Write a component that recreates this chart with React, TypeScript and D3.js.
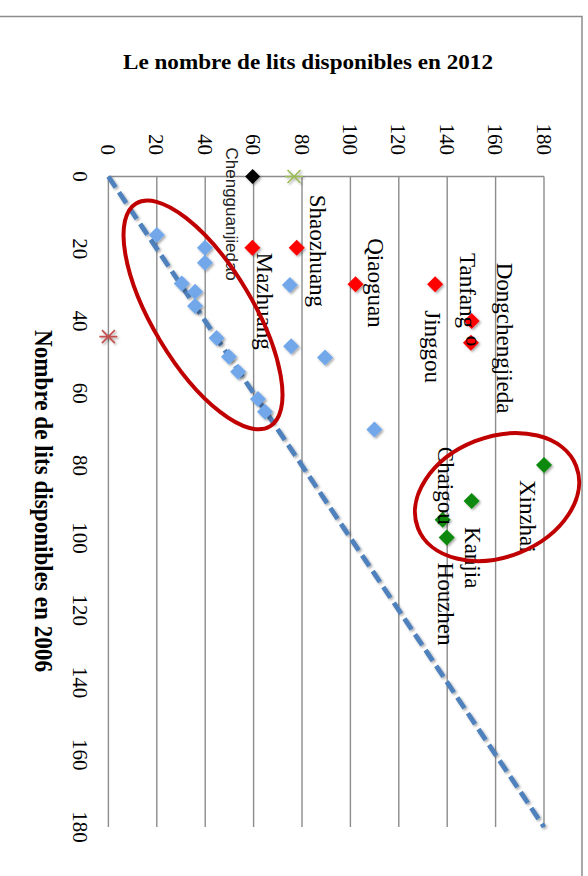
import React from "react";
import * as d3 from "d3";

// ---- data ----
const ticks2012 = [0, 20, 40, 60, 80, 100, 120, 140, 160, 180];
const ticks2006 = [0, 20, 40, 60, 80, 100, 120, 140, 160, 180];

const blue2006 = [16.2, 19.7, 23.9, 29.6, 31.9, 35.8, 30, 44.7, 47, 49.9, 50.1, 54, 61.6, 65.1, 70];
const blue2012 = [20, 39.9, 39.9, 30.3, 35.8, 35.8, 75, 44.7, 75.5, 49.8, 89.5, 53.6, 61.8, 64.7, 109.9];

const redNames = ["Mazhuang", "Shaozhuang", "Qiaoguan", "Jinggou", "Tanfang", "Dongchengjieda"];
const red2006 = [19.7, 19.7, 29.8, 29.8, 40, 46];
const red2012 = [59.5, 77.8, 102.1, 135, 150.1, 149.8];

const greenNames = ["Xinzhai", "Kanjia", "Chaigou", "Houzhen"];
const green2006 = [79.8, 89.8, 95, 99.9];
const green2012 = [180, 150.1, 138.1, 139.8];

const blackNames = ["Chengguanjiedao"];
const black2006 = [0];
const black2012 = [59.6];

const starGreen2006 = [0];
const starGreen2012 = [76.7];
const starRed2006 = [44.3];
const starRed2012 = [0];

const diag = [0, 180];

// annotation ellipses: centre in data units (2012, 2006)
const ellipse2012 = [39.1, 160.6];
const ellipse2006 = [38.3, 88.7];

// ---- layout ----
const W = 588;
const H = 876;
const x = d3.scaleLinear().domain([0, 180]).range([108.4, 544]);
const y = d3.scaleLinear().domain([0, 180]).range([176.5, 827]);

const ellipseShape = [
  { rx: 130, ry: 50, rot: 59 },
  { rx: 85, ry: 60, rot: -21.5 },
];

// label offsets (px) from marker: [dx to label centre, dy to label start]
const labelOffsets: Record<string, [number, number]> = {
  Chengguanjiedao: [-21, -29],
  Shaozhuang: [18, -53],
  Qiaoguan: [18, -46],
  Mazhuang: [10, 5],
  Dongchengjieda: [31, -80],
  Tanfang: [-7, -68],
  Jinggou: [-5, 26],
  Xinzhai: [-19, 15],
  Chaigou: [0, -73],
  Kanjia: [-2, 26],
  Houzhen: [-4, 25],
};

const SERIF = "'Liberation Serif', 'Times New Roman', serif";
const SANS = "'Liberation Sans', Arial, sans-serif";

function Diamond({ cx, cy, r, fill }: { cx: number; cy: number; r: number; fill: string }) {
  const p = d3.path();
  p.moveTo(cx, cy - r);
  p.lineTo(cx + r, cy);
  p.lineTo(cx, cy + r);
  p.lineTo(cx - r, cy);
  p.closePath();
  return <path d={p.toString()} fill={fill} filter="url(#shadow)" />;
}

function Star({ cx, cy, r, color }: { cx: number; cy: number; r: number; color: string }) {
  const k = r * 0.72;
  const p = d3.path();
  p.moveTo(cx - k, cy - k);
  p.lineTo(cx + k, cy + k);
  p.moveTo(cx - k, cy + k);
  p.lineTo(cx + k, cy - k);
  p.moveTo(cx - r, cy);
  p.lineTo(cx + r, cy);
  return <path d={p.toString()} stroke={color} strokeWidth={1.6} fill="none" filter="url(#shadow)" />;
}

function Label({ name, px, py, sans }: { name: string; px: number; py: number; sans?: boolean }) {
  const off = labelOffsets[name] || [0, 0];
  const cx = px + off[0];
  const sy = py + off[1];
  return (
    <text
      transform={`translate(${cx},${sy}) rotate(90)`}
      dy={sans ? "0.32em" : "0.22em"}
      fontFamily={sans ? SANS : SERIF}
      fontSize={sans ? 17 : 23}
      fill={sans ? "#222" : "#000"}
      textAnchor="start"
    >
      {name}
    </text>
  );
}

export default function App() {
  const line = d3
    .line<number>()
    .x((d) => x(d))
    .y((d) => y(d));

  return (
    <svg
      width={W}
      height={H}
      style={{ position: "absolute", left: 0, top: 0, background: "#fff" }}
    >
      <defs>
        <filter id="shadow" x="-50%" y="-50%" width="200%" height="200%">
          <feDropShadow dx="1.5" dy="1.5" stdDeviation="1.2" floodColor="#000" floodOpacity="0.35" />
        </filter>
      </defs>
      <rect x={0} y={0} width={W} height={H} fill="#fff" />
      <rect x={-2} y={16.5} width={584} height={880} fill="none" stroke="#8c8c8c" strokeWidth={1.5} />

      <text
        x={308}
        y={68.5}
        textAnchor="middle"
        fontFamily={SERIF}
        fontWeight="bold"
        fontSize={20}
        textLength={370}
        lengthAdjust="spacingAndGlyphs"
      >
        Le nombre de lits disponibles en 2012
      </text>

      {/* gridlines (2012 values) */}
      {ticks2012.map((t) => (
        <line key={"g" + t} x1={x(t)} x2={x(t)} y1={y(0)} y2={y(180)} stroke="#8c8c8c" strokeWidth={1.4} />
      ))}
      <line x1={x(0)} x2={x(180)} y1={y(0)} y2={y(0)} stroke="#8c8c8c" strokeWidth={1.4} />

      {/* tick labels 2012 (top) */}
      {ticks2012.map((t) => (
        <text
          key={"t12" + t}
          transform={`translate(${x(t)},155) rotate(90)`}
          dy="0.35em"
          textAnchor="end"
          fontFamily={SERIF}
          fontSize={21}
        >
          {t}
        </text>
      ))}
      {/* tick labels 2006 (left) */}
      {ticks2006.map((t) => (
        <text
          key={"t06" + t}
          transform={`translate(80,${y(t)}) rotate(90)`}
          dy="0.35em"
          textAnchor="middle"
          fontFamily={SERIF}
          fontSize={21}
        >
          {t}
        </text>
      ))}

      <text
        transform={`translate(35,501) rotate(90)`}
        textAnchor="middle"
        fontFamily={SERIF}
        fontWeight="bold"
        fontSize={25}
        textLength={342}
        lengthAdjust="spacingAndGlyphs"
      >
        Nombre de lits disponibles en 2006
      </text>

      {/* diagonal y = x */}
      <path
        d={line(diag) || ""}
        stroke="#4f81bd"
        strokeWidth={4.8}
        strokeDasharray="13 6"
        fill="none"
        filter="url(#shadow)"
      />

      {/* blue series */}
      {blue2006.map((v, i) => (
        <Diamond key={"b" + i} cx={x(blue2012[i])} cy={y(v)} r={8} fill="#72a8ea" />
      ))}

      {/* black */}
      {black2006.map((v, i) => (
        <Diamond key={"k" + i} cx={x(black2012[i])} cy={y(v)} r={7.5} fill="#000" />
      ))}

      {/* red */}
      {red2006.map((v, i) => (
        <Diamond key={"r" + i} cx={x(red2012[i])} cy={y(v)} r={8} fill="#ff0000" />
      ))}

      {/* green */}
      {green2006.map((v, i) => (
        <Diamond key={"gr" + i} cx={x(green2012[i])} cy={y(v)} r={8} fill="#088a08" />
      ))}

      {starGreen2006.map((v, i) => (
        <Star key={"sg" + i} cx={x(starGreen2012[i])} cy={y(v)} r={9} color="#9bbb59" />
      ))}
      {starRed2006.map((v, i) => (
        <Star key={"sr" + i} cx={x(starRed2012[i])} cy={y(v)} r={9} color="#c0504d" />
      ))}

      {/* labels */}
      {blackNames.map((n, i) => (
        <Label key={n} name={n} px={x(black2012[i])} py={y(black2006[i])} sans />
      ))}
      {redNames.map((n, i) => (
        <Label key={n} name={n} px={x(red2012[i])} py={y(red2006[i])} />
      ))}
      {greenNames.map((n, i) => (
        <Label key={n} name={n} px={x(green2012[i])} py={y(green2006[i])} />
      ))}
      <text
        transform={`translate(${x(red2012[5])},${y(red2006[5]) - 7}) rotate(90)`}
        dy="0.22em"
        fontFamily={SERIF}
        fontSize={21}
      >
        o
      </text>

      {/* annotation ellipses */}
      {ellipse2012.map((v, i) => (
        <ellipse
          key={"e" + i}
          cx={0}
          cy={0}
          rx={ellipseShape[i].rx}
          ry={ellipseShape[i].ry}
          transform={`translate(${x(v)},${y(ellipse2006[i])}) rotate(${ellipseShape[i].rot})`}
          fill="none"
          stroke="#c00000"
          strokeWidth={4}
        />
      ))}
    </svg>
  );
}
